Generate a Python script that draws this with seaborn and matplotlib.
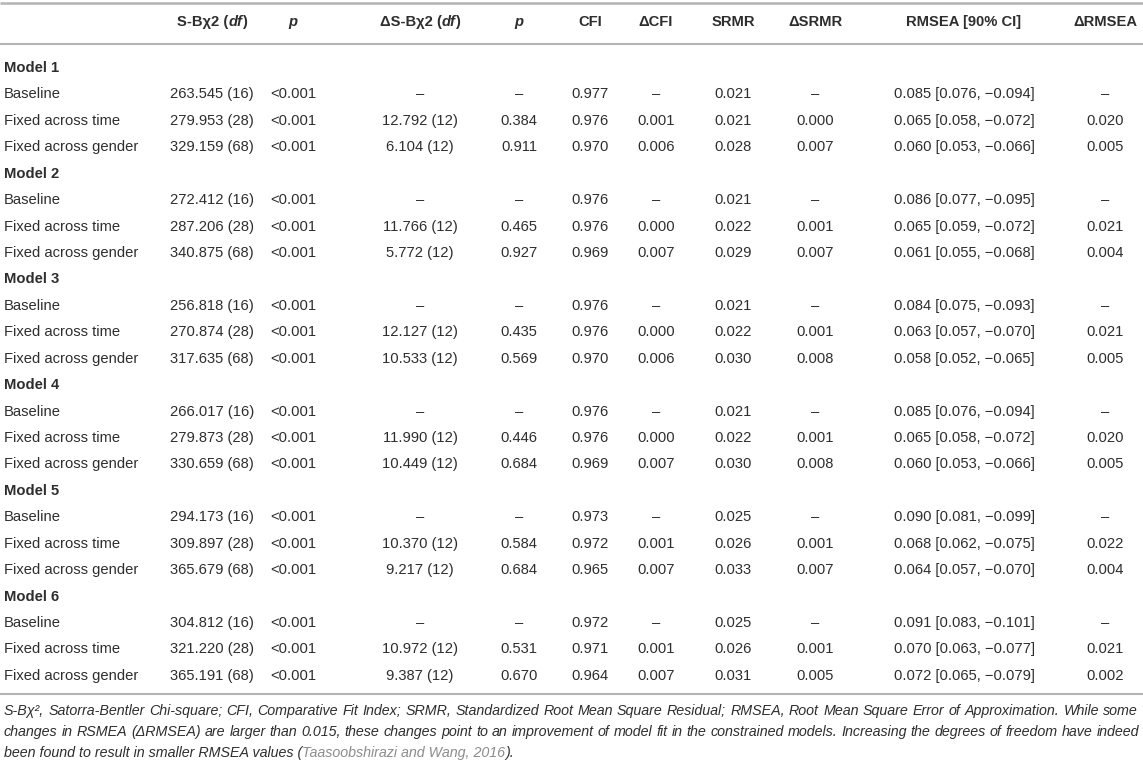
import matplotlib
matplotlib.use("Agg")
import matplotlib.pyplot as plt
import seaborn as sns

sns.set_theme(style="white")
plt.rcParams["font.family"] = ["Liberation Sans", "DejaVu Sans"]

# ---- table content ----
models = ["Model 1", "Model 2", "Model 3", "Model 4", "Model 5", "Model 6"]
conditions = ["Baseline", "Fixed across time", "Fixed across gender"]

sb_chi = ["263.545 (16)", "279.953 (28)", "329.159 (68)",
          "272.412 (16)", "287.206 (28)", "340.875 (68)",
          "256.818 (16)", "270.874 (28)", "317.635 (68)",
          "266.017 (16)", "279.873 (28)", "330.659 (68)",
          "294.173 (16)", "309.897 (28)", "365.679 (68)",
          "304.812 (16)", "321.220 (28)", "365.191 (68)"]
p_chi = ["<0.001"] * 18
d_chi = ["–", "12.792 (12)", "6.104 (12)",
         "–", "11.766 (12)", "5.772 (12)",
         "–", "12.127 (12)", "10.533 (12)",
         "–", "11.990 (12)", "10.449 (12)",
         "–", "10.370 (12)", "9.217 (12)",
         "–", "10.972 (12)", "9.387 (12)"]
p_dchi = ["–", "0.384", "0.911",
          "–", "0.465", "0.927",
          "–", "0.435", "0.569",
          "–", "0.446", "0.684",
          "–", "0.584", "0.684",
          "–", "0.531", "0.670"]
cfi = ["0.977", "0.976", "0.970",
       "0.976", "0.976", "0.969",
       "0.976", "0.976", "0.970",
       "0.976", "0.976", "0.969",
       "0.973", "0.972", "0.965",
       "0.972", "0.971", "0.964"]
d_cfi = ["–", "0.001", "0.006",
         "–", "0.000", "0.007",
         "–", "0.000", "0.006",
         "–", "0.000", "0.007",
         "–", "0.001", "0.007",
         "–", "0.001", "0.007"]
srmr = ["0.021", "0.021", "0.028",
        "0.021", "0.022", "0.029",
        "0.021", "0.022", "0.030",
        "0.021", "0.022", "0.030",
        "0.025", "0.026", "0.033",
        "0.025", "0.026", "0.031"]
d_srmr = ["–", "0.000", "0.007",
          "–", "0.001", "0.007",
          "–", "0.001", "0.008",
          "–", "0.001", "0.008",
          "–", "0.001", "0.007",
          "–", "0.001", "0.005"]
rmsea = ["0.085 [0.076, −0.094]", "0.065 [0.058, −0.072]", "0.060 [0.053, −0.066]",
         "0.086 [0.077, −0.095]", "0.065 [0.059, −0.072]", "0.061 [0.055, −0.068]",
         "0.084 [0.075, −0.093]", "0.063 [0.057, −0.070]", "0.058 [0.052, −0.065]",
         "0.085 [0.076, −0.094]", "0.065 [0.058, −0.072]", "0.060 [0.053, −0.066]",
         "0.090 [0.081, −0.099]", "0.068 [0.062, −0.075]", "0.064 [0.057, −0.070]",
         "0.091 [0.083, −0.101]", "0.070 [0.063, −0.077]", "0.072 [0.065, −0.079]"]
d_rmsea = ["–", "0.020", "0.005",
           "–", "0.021", "0.004",
           "–", "0.021", "0.005",
           "–", "0.020", "0.005",
           "–", "0.022", "0.004",
           "–", "0.021", "0.002"]

# header pieces: (text, italic?)
headers = [
    [("S-Bχ2 (", False), ("df", True), (")", False)],
    [("p", True)],
    [("ΔS-Bχ2 (", False), ("df", True), (")", False)],
    [("p", True)],
    [("CFI", False)],
    [("ΔCFI", False)],
    [("SRMR", False)],
    [("ΔSRMR", False)],
    [("RMSEA [90% CI]", False)],
    [("ΔRMSEA", False)],
]

note_line1 = ("S-Bχ², Satorra-Bentler Chi-square; CFI, Comparative Fit Index; SRMR, "
              "Standardized Root Mean Square Residual; RMSEA, Root Mean Square Error "
              "of Approximation. While some")
note_line2 = ("changes in RSMEA (ΔRMSEA) are larger than 0.015, these changes point to an "
              "improvement of model fit in the constrained models. Increasing the degrees "
              "of freedom have indeed")
note_line3 = "been found to result in smaller RMSEA values ("
note_cite = "Taasoobshirazi and Wang, 2016"
note_end = ")."

columns = [sb_chi, p_chi, d_chi, p_dchi, cfi, d_cfi, srmr, d_srmr, rmsea, d_rmsea]

# ---- layout ----
W, H = 1143, 763
col_x = [212, 293, 420, 519, 590, 656, 733, 815, 964, 1105]
TXT = "#2e2e2e"
RULE = "#b4b4b4"
CITE = "#8c8c8c"
FS = 10.6

fig = plt.figure(figsize=(W / 100, H / 100), dpi=100)
ax = fig.add_axes([0, 0, 1, 1])
ax.set_xlim(0, W)
ax.set_ylim(H, 0)
ax.axis("off")
renderer = fig.canvas.get_renderer()


def text_width(t):
    bb = t.get_window_extent(renderer)
    return bb.width


# pick the footnote size so the first line fills the width naturally
probe = ax.text(0, 0, note_line1, fontsize=10, fontstyle="italic")
FS_NOTE = 10 * 1130 / text_width(probe)
probe.remove()


def draw_segments(segs, x, y, ha="center", bold=False, size=FS, base_italic=False):
    """ Draws a run of text pieces with mixed styles on one baseline. """
    items = []
    for s, it, *rest in segs:
        color = rest[0] if rest else TXT
        style = "italic" if (it or base_italic) else "normal"
        t = ax.text(0, y, s, fontsize=size, fontweight="bold" if bold else "normal",
                    fontstyle=style, color=color, va="center", ha="left")
        items.append(t)
    widths = [text_width(t) for t in items]
    total = sum(widths)
    start = x - total / 2 if ha == "center" else x
    for t, w in zip(items, widths):
        t.set_x(start)
        start += w
    return total


def draw_justified(line, y, x0, x1, size):
    """ Spreads the words of a line evenly between x0 and x1. """
    words = line.split(" ")
    items = [ax.text(0, y, w, fontsize=size, fontstyle="italic", color=TXT,
                     va="center", ha="left") for w in words]
    widths = [text_width(t) for t in items]
    gap = (x1 - x0 - sum(widths)) / (len(words) - 1)
    pos = x0
    for t, w in zip(items, widths):
        t.set_x(pos)
        pos += w + gap


# rules
ax.plot([0, W], [3, 3], color=RULE, lw=1.8, solid_capstyle="butt")
ax.plot([0, W], [43.5, 43.5], color=RULE, lw=1.5, solid_capstyle="butt")
ax.plot([0, W], [694, 694], color=RULE, lw=1.5, solid_capstyle="butt")

# header
for segs, x in zip(headers, col_x):
    draw_segments(segs, x, 22, bold=True)

# body
y0, step = 68, 26.43
row = 0
for m, model in enumerate(models):
    y = y0 + row * step
    ax.text(4, y, model, fontsize=FS, fontweight="bold", color=TXT, va="center", ha="left")
    row += 1
    for c, cond in enumerate(conditions):
        y = y0 + row * step
        i = m * 3 + c
        ax.text(4, y, cond, fontsize=FS, color=TXT, va="center", ha="left")
        for col, x in zip(columns, col_x):
            ax.text(x, y, col[i], fontsize=FS, color=TXT, va="center", ha="center")
        row += 1

# footnote
draw_justified(note_line1, 711, 4, 1138, FS_NOTE)
draw_justified(note_line2, 732, 4, 1139, FS_NOTE)
draw_segments([(note_line3, True), (note_cite, True, CITE), (note_end, True)],
              4, 753, ha="left", size=FS_NOTE)

fig.savefig("out.png", dpi=100)
